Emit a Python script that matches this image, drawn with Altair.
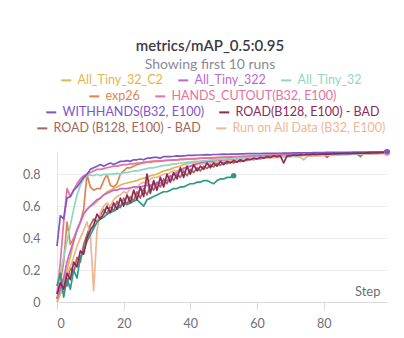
import altair as alt
import pandas as pd

FONT = "Lato"

# ---------------- data ----------------
steps_full = list(range(100))
steps_short = list(range(54))

run_names = [
    "All_Tiny_32_C2", "All_Tiny_322", "All_Tiny_32",
    "exp26", "HANDS_CUTOUT(B32, E100)",
    "WITHHANDS(B32, E100)", "ROAD(B128, E100) - BAD",
    "ROAD (B128, E100) - BAD", "Run on All Data (B32, E100)",
    "Run 10",
]
run_colors = [
    "#e6b44c", "#c066d6", "#92d4c4",
    "#dc8552", "#e8729e",
    "#7d56c8", "#8e2a5a",
    "#a3675b", "#efb692",
    "#2f9a84",
]
legend_rows = [[0, 1, 2], [3, 4], [5, 6], [7, 8]]

gold = [0.00, 0.05, 0.12, 0.20, 0.28, 0.38, 0.45, 0.50, 0.55, 0.58,
        0.60, 0.61, 0.63, 0.65, 0.67, 0.69, 0.70, 0.71, 0.72, 0.73,
        0.74, 0.745, 0.75, 0.755, 0.76, 0.77, 0.775, 0.78, 0.79, 0.795,
        0.80, 0.81, 0.82, 0.825, 0.83, 0.84, 0.845, 0.85, 0.86, 0.865,
        0.87, 0.873, 0.876, 0.878, 0.88, 0.883, 0.885, 0.887, 0.889, 0.89,
        0.892, 0.894, 0.895, 0.897, 0.898, 0.90, 0.901, 0.902, 0.903, 0.905,
        0.906, 0.907, 0.908, 0.909, 0.91, 0.911, 0.912, 0.913, 0.914, 0.915,
        0.916, 0.917, 0.918, 0.918, 0.919, 0.92, 0.921, 0.921, 0.922, 0.923,
        0.923, 0.924, 0.925, 0.925, 0.926, 0.926, 0.927, 0.928, 0.928, 0.929,
        0.929, 0.93, 0.93, 0.931, 0.931, 0.932, 0.932, 0.933, 0.933, 0.934]

magenta = [0.02, 0.08, 0.15, 0.25, 0.32, 0.38, 0.45, 0.50, 0.55, 0.58,
           0.60, 0.62, 0.64, 0.65, 0.67, 0.68, 0.69, 0.70, 0.70, 0.71,
           0.71, 0.71, 0.715, 0.72, 0.72, 0.72, 0.725, 0.73, 0.73, 0.735,
           0.74, 0.745, 0.75, 0.76, 0.78, 0.80, 0.81, 0.82, 0.835, 0.845,
           0.85, 0.86, 0.865, 0.87, 0.875, 0.878, 0.88, 0.883, 0.886, 0.888,
           0.89, 0.892, 0.894, 0.896, 0.898, 0.90, 0.901, 0.903, 0.904, 0.905,
           0.907, 0.908, 0.909, 0.91, 0.911, 0.912, 0.913, 0.914, 0.915, 0.916,
           0.917, 0.918, 0.919, 0.92, 0.92, 0.921, 0.922, 0.923, 0.924, 0.924,
           0.925, 0.926, 0.926, 0.927, 0.928, 0.928, 0.929, 0.929, 0.93, 0.931,
           0.931, 0.932, 0.932, 0.933, 0.933, 0.934, 0.934, 0.935, 0.935, 0.936]

light_teal = [0.10, 0.18, 0.28, 0.38, 0.48, 0.58, 0.67, 0.73, 0.77, 0.79,
              0.795, 0.79, 0.80, 0.79, 0.80, 0.795, 0.80, 0.80, 0.805, 0.80,
              0.81, 0.81, 0.815, 0.82, 0.82, 0.825, 0.83, 0.835, 0.84, 0.84,
              0.845, 0.85, 0.855, 0.855, 0.86, 0.865, 0.865, 0.87, 0.87, 0.875,
              0.875, 0.88, 0.88, 0.882, 0.885, 0.886, 0.888, 0.89, 0.89, 0.892,
              0.893, 0.895, 0.896, 0.897, 0.898, 0.90, 0.90, 0.902, 0.903, 0.904,
              0.905, 0.906, 0.907, 0.908, 0.909, 0.91, 0.91, 0.911, 0.912, 0.913,
              0.914, 0.915, 0.915, 0.916, 0.917, 0.918, 0.918, 0.919, 0.92, 0.92,
              0.921, 0.922, 0.922, 0.923, 0.924, 0.924, 0.925, 0.925, 0.926, 0.926,
              0.927, 0.928, 0.928, 0.929, 0.929, 0.93, 0.93, 0.931, 0.931, 0.932]

orange = [0.02, 0.12, 0.25, 0.50, 0.36, 0.40, 0.45, 0.50, 0.58, 0.80,
          0.72, 0.70, 0.71, 0.71, 0.76, 0.80, 0.73, 0.72, 0.74, 0.80,
          0.82, 0.84, 0.84, 0.85, 0.86, 0.865, 0.87, 0.875, 0.875, 0.88,
          0.88, 0.882, 0.885, 0.886, 0.888, 0.89, 0.89, 0.892, 0.893, 0.894,
          0.895, 0.896, 0.897, 0.898, 0.90, 0.90, 0.901, 0.902, 0.903, 0.904,
          0.905, 0.906, 0.907, 0.908, 0.909, 0.91, 0.91, 0.911, 0.912, 0.913,
          0.914, 0.915, 0.915, 0.916, 0.917, 0.918, 0.918, 0.919, 0.92, 0.92,
          0.921, 0.922, 0.922, 0.923, 0.924, 0.924, 0.925, 0.925, 0.926, 0.926,
          0.927, 0.928, 0.928, 0.929, 0.929, 0.93, 0.93, 0.931, 0.931, 0.932,
          0.932, 0.933, 0.933, 0.934, 0.934, 0.935, 0.935, 0.936, 0.936, 0.937]

pink = [0.05, 0.25, 0.50, 0.71, 0.66, 0.70, 0.74, 0.77, 0.79, 0.80,
        0.81, 0.82, 0.83, 0.83, 0.835, 0.84, 0.845, 0.85, 0.85, 0.855,
        0.86, 0.86, 0.865, 0.865, 0.87, 0.87, 0.875, 0.875, 0.88, 0.88,
        0.882, 0.884, 0.885, 0.887, 0.888, 0.89, 0.89, 0.892, 0.893, 0.895,
        0.896, 0.897, 0.898, 0.90, 0.90, 0.901, 0.902, 0.903, 0.904, 0.905,
        0.906, 0.907, 0.908, 0.909, 0.91, 0.91, 0.911, 0.912, 0.913, 0.914,
        0.915, 0.916, 0.917, 0.918, 0.918, 0.919, 0.92, 0.92, 0.921, 0.922,
        0.922, 0.923, 0.924, 0.924, 0.925, 0.925, 0.926, 0.927, 0.927, 0.928,
        0.928, 0.929, 0.929, 0.93, 0.93, 0.931, 0.931, 0.932, 0.932, 0.933,
        0.933, 0.934, 0.934, 0.935, 0.935, 0.936, 0.936, 0.937, 0.937, 0.938]

purple = [0.35, 0.54, 0.52, 0.65, 0.66, 0.70, 0.72, 0.75, 0.78, 0.80,
          0.83, 0.84, 0.85, 0.86, 0.85, 0.86, 0.87, 0.86, 0.87, 0.88,
          0.88, 0.885, 0.88, 0.89, 0.89, 0.895, 0.89, 0.90, 0.90, 0.905,
          0.905, 0.90, 0.91, 0.91, 0.91, 0.912, 0.915, 0.913, 0.915, 0.917,
          0.918, 0.918, 0.92, 0.92, 0.921, 0.922, 0.921, 0.923, 0.923, 0.924,
          0.925, 0.924, 0.925, 0.926, 0.926, 0.927, 0.927, 0.928, 0.928, 0.928,
          0.929, 0.929, 0.93, 0.93, 0.93, 0.931, 0.931, 0.931, 0.932, 0.932,
          0.932, 0.933, 0.933, 0.933, 0.934, 0.934, 0.934, 0.935, 0.935, 0.935,
          0.935, 0.936, 0.936, 0.936, 0.936, 0.937, 0.937, 0.937, 0.937, 0.938,
          0.938, 0.938, 0.938, 0.938, 0.939, 0.939, 0.939, 0.939, 0.94, 0.94]

maroon = [0.05, 0.12, 0.08, 0.18, 0.14, 0.25, 0.22, 0.32, 0.30, 0.40,
          0.45, 0.48, 0.55, 0.52, 0.55, 0.60, 0.56, 0.62, 0.58, 0.65,
          0.60, 0.67, 0.62, 0.70, 0.64, 0.72, 0.66, 0.80, 0.68, 0.76,
          0.70, 0.78, 0.72, 0.80, 0.75, 0.81, 0.77, 0.84, 0.78, 0.85,
          0.80, 0.86, 0.82, 0.85, 0.83, 0.87, 0.84, 0.87, 0.85, 0.88,
          0.86, 0.88, 0.87, 0.885, 0.875, 0.89, 0.88, 0.895, 0.89, 0.90,
          0.895, 0.905, 0.90, 0.91, 0.905, 0.915, 0.91, 0.915, 0.87, 0.915,
          0.915, 0.92, 0.918, 0.922, 0.92, 0.924, 0.922, 0.925, 0.923, 0.926,
          0.925, 0.927, 0.926, 0.928, 0.927, 0.929, 0.928, 0.93, 0.929, 0.931,
          0.93, 0.932, 0.931, 0.933, 0.932, 0.934, 0.933, 0.935, 0.935, 0.938]

brown = [0.02, 0.08, 0.15, 0.10, 0.22, 0.18, 0.28, 0.25, 0.36, 0.42,
         0.48, 0.52, 0.50, 0.54, 0.58, 0.55, 0.60, 0.57, 0.63, 0.59,
         0.65, 0.61, 0.66, 0.63, 0.69, 0.65, 0.71, 0.67, 0.73, 0.70,
         0.75, 0.72, 0.77, 0.74, 0.79, 0.76, 0.80, 0.78, 0.82, 0.79,
         0.83, 0.81, 0.84, 0.82, 0.85, 0.835, 0.86, 0.845, 0.87, 0.855,
         0.875, 0.865, 0.88, 0.87, 0.885, 0.878, 0.89, 0.885, 0.895, 0.89,
         0.90, 0.895, 0.905, 0.90, 0.91, 0.905, 0.912, 0.908, 0.915, 0.91,
         0.917, 0.913, 0.918, 0.915, 0.92, 0.917, 0.921, 0.918, 0.922, 0.92,
         0.923, 0.905, 0.924, 0.922, 0.925, 0.924, 0.926, 0.925, 0.927, 0.926,
         0.928, 0.91, 0.929, 0.928, 0.93, 0.929, 0.931, 0.93, 0.932, 0.935]

peach = [0.00, 0.05, 0.10, 0.18, 0.22, 0.28, 0.35, 0.40, 0.45, 0.50,
         0.42, 0.07, 0.45, 0.56, 0.60, 0.62, 0.60, 0.64, 0.66, 0.67,
         0.69, 0.68, 0.71, 0.72, 0.71, 0.74, 0.75, 0.74, 0.77, 0.78,
         0.78, 0.79, 0.80, 0.80, 0.81, 0.82, 0.82, 0.83, 0.84, 0.845,
         0.85, 0.855, 0.86, 0.862, 0.865, 0.868, 0.87, 0.872, 0.875, 0.877,
         0.88, 0.882, 0.884, 0.886, 0.888, 0.89, 0.891, 0.893, 0.894, 0.896,
         0.897, 0.898, 0.90, 0.901, 0.902, 0.903, 0.904, 0.905, 0.906, 0.907,
         0.908, 0.909, 0.91, 0.905, 0.89, 0.91, 0.912, 0.913, 0.914, 0.915,
         0.916, 0.917, 0.918, 0.918, 0.919, 0.92, 0.921, 0.921, 0.922, 0.923,
         0.923, 0.924, 0.925, 0.925, 0.926, 0.926, 0.927, 0.928, 0.928, 0.929]

dark_teal = [0.10, 0.18, 0.03, 0.15, 0.08, 0.20, 0.15, 0.28, 0.32, 0.38,
             0.42, 0.46, 0.50, 0.52, 0.53, 0.55, 0.56, 0.57, 0.58, 0.60,
             0.62, 0.61, 0.62, 0.63, 0.64, 0.62, 0.60, 0.64, 0.65, 0.66,
             0.67, 0.68, 0.69, 0.69, 0.70, 0.71, 0.71, 0.72, 0.72, 0.73,
             0.74, 0.74, 0.75, 0.75, 0.76, 0.76, 0.75, 0.74, 0.76, 0.77,
             0.77, 0.78, 0.78, 0.79]

run_values = [gold, magenta, light_teal, orange, pink, purple, maroon, brown, peach, dark_teal]
run_steps = [steps_full] * 9 + [steps_short]

y_ticks = [0, 0.2, 0.4, 0.6, 0.8]
x_ticks = [0, 20, 40, 60, 80]

# ---------------- build table ----------------
rows = []
for name, steps, vals in zip(run_names, run_steps, run_values):
    for s, v in zip(steps, vals):
        rows.append({"run": name, "step": s, "value": v})
df = pd.DataFrame(rows)
last = df.groupby("run", as_index=False, sort=False).last()
# draw the WITHHANDS end dot last (on top)
last["order"] = [1 if r == "WITHHANDS(B32, E100)" else 0 for r in last["run"]]
last = last.sort_values("order", kind="stable")

LABEL = "#6e6e78"
GRID = "#ececf0"

x_axis = alt.Axis(values=x_ticks, grid=False, domainColor="#d9d9df",
                  tickColor="#d9d9df", tickSize=8, labelPadding=7,
                  labelOverlap=False,
                  labelColor=LABEL, labelFontSize=12.5, labelFont=FONT,
                  title="Step", titleX=323, titleY=-7, titleAlign="right",
                  titleBaseline="alphabetic", titleFontWeight="normal",
                  titleColor=LABEL, titleFontSize=13, titleFont=FONT)
y_axis = alt.Axis(values=y_ticks, tickCount=5, format=".1~f", grid=True, gridColor=GRID,
                  domain=True, domainColor="#e4e4e8", ticks=False, tickSize=0,
                  labelOverlap=False, labelBound=False,
                  labelPadding=17, labelColor=LABEL, labelFontSize=12.5,
                  labelFont=FONT, title=None)


def x_enc():
    return alt.X("step:Q", scale=alt.Scale(domain=[0, 99], nice=False), axis=x_axis)


def y_enc():
    return alt.Y("value:Q", scale=alt.Scale(domain=[0, 0.945], nice=False), axis=y_axis)


legend_pos = [(3, -77), (31, -61), (-12, -45), (-21, -29)]


def color_expr(idx):
    expr = "'%s'" % run_colors[idx[-1]]
    for i in reversed(idx[:-1]):
        expr = "datum.value === '%s' ? '%s' : %s" % (run_names[i], run_colors[i], expr)
    return expr


def group_layer(idx, legend):
    names = [run_names[i] for i in idx]
    cols = [run_colors[i] for i in idx]
    return alt.Chart(df).transform_filter(
        alt.FieldOneOfPredicate(field="run", oneOf=names)
    ).mark_line(strokeWidth=1.7, strokeJoin="round").encode(
        x=x_enc(), y=y_enc(),
        color=alt.Color("run:N", sort=names,
                        scale=alt.Scale(domain=names, range=cols),
                        legend=legend),
    )


layers = {}
for r, idx in enumerate(legend_rows):
    lx, ly = legend_pos[r]
    lg = alt.Legend(orient="none", legendX=lx, legendY=ly, direction="horizontal",
                    columns=len(idx), title=None, symbolType="stroke",
                    symbolStrokeWidth=2, symbolSize=100, labelFont=FONT,
                    labelFontSize=12.5, labelOffset=5, columnPadding=11,
                    labelLimit=400, padding=0, labelColor={"expr": color_expr(idx)})
    layers[r] = group_layer(idx, lg)
hidden = group_layer([9], None)

points = alt.Chart(last).mark_circle(size=30, opacity=1).encode(
    x=x_enc(), y=y_enc(),
    color=alt.Color("run:N", scale=alt.Scale(domain=run_names, range=run_colors), legend=None),
    order=alt.Order("order:Q"),
)

chart = alt.layer(
    layers[3], layers[1], layers[0], hidden, layers[2], points
).resolve_scale(color="independent").properties(
    width=330, height=151,
    autosize=alt.AutoSizeParams(type="none"),
    padding={"left": 49, "top": 143, "right": 9, "bottom": 28},
    background="white",
    title=alt.TitleParams(
        text="metrics/mAP_0.5:0.95", subtitle="Showing first 10 runs",
        anchor="middle", frame="group", font=FONT, fontSize=15, fontWeight=600,
        color="#3a3a44", subtitleFont=FONT, subtitleFontSize=14,
        subtitleColor="#8a8a94", subtitlePadding=4, offset=2, dx=-12,
    ),
).configure_view(stroke=None)

chart.save("out.html", embed_options={"renderer": "svg", "actions": False})
